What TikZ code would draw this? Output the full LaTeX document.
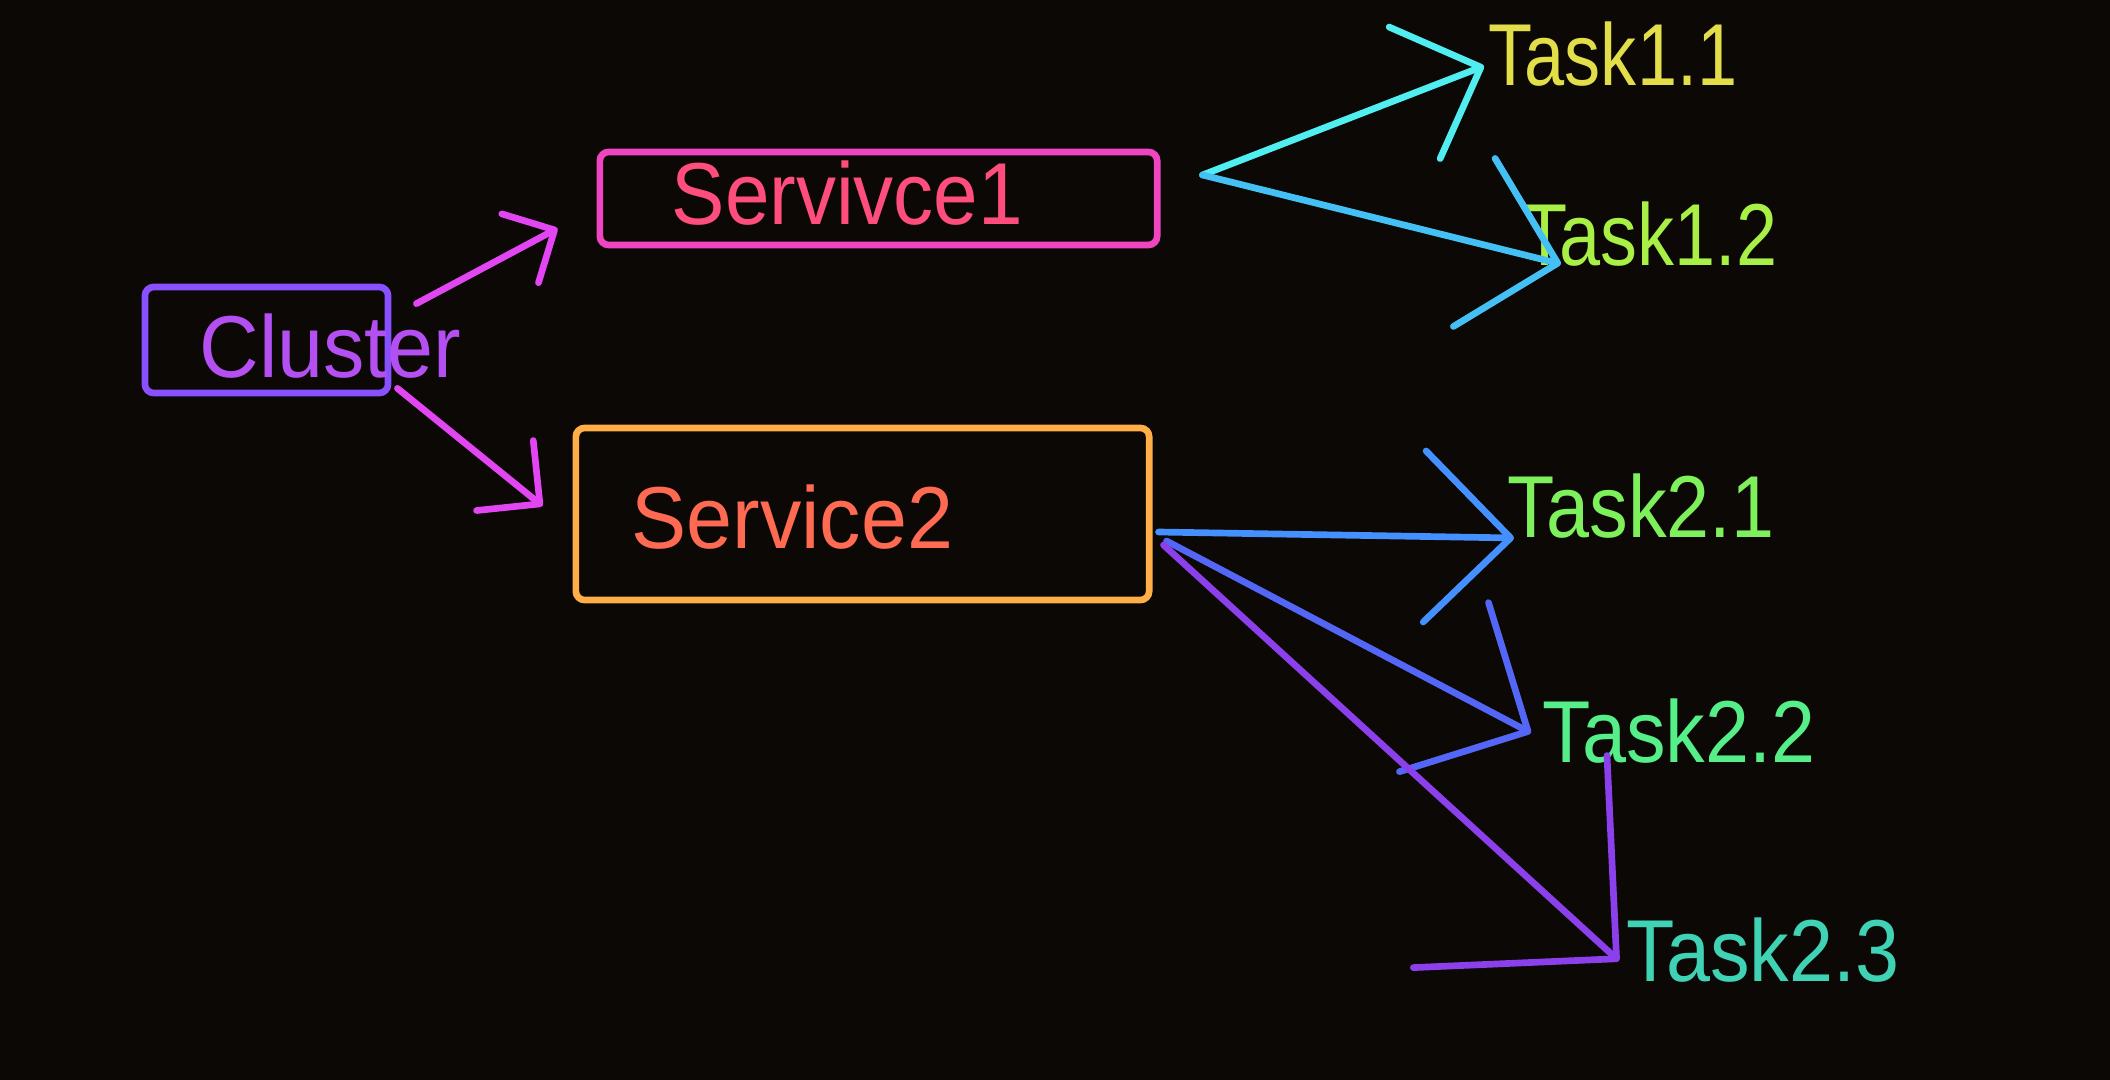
\documentclass[tikz,border=0pt]{standalone}
\usepackage{fontspec}
\setmainfont{Liberation Sans}
\usetikzlibrary{calc}
\usetikzlibrary{arrows.meta}

\definecolor{bg}{HTML}{0C0805}
\definecolor{cluline}{HTML}{8850FF}
\definecolor{clutext}{HTML}{B450F2}
\definecolor{sonebox}{HTML}{F045C0}
\definecolor{sonetext}{HTML}{FF4E7E}
\definecolor{stwobox}{HTML}{FFAE48}
\definecolor{stwotext}{HTML}{FF6A52}
\definecolor{magarrow}{HTML}{E246F2}
\definecolor{tonea}{HTML}{E2DE4A}
\definecolor{toneb}{HTML}{A8F046}
\definecolor{ttwoa}{HTML}{7EF05C}
\definecolor{ttwob}{HTML}{55EE88}
\definecolor{ttwoc}{HTML}{40D2B4}
\definecolor{arrA}{HTML}{50EEF0}
\definecolor{arrB}{HTML}{45C0F5}
\definecolor{arrC}{HTML}{4590FF}
\definecolor{arrD}{HTML}{5466F5}
\definecolor{arrE}{HTML}{8C40EC}

\tikzset{
  frame/.style={draw, line width=1.9pt, rounded corners=2.5pt, inner sep=0pt},
  word/.style={anchor=base west, inner sep=0pt, font=\fontsize{25}{30}\selectfont},
  hd/.style 2 args={line width=1.9pt, line cap=round, -{Straight Barb[round,length=#1,width=#2]}}
}

\begin{document}
\begin{tikzpicture}[x=0.01cm, y=-0.01cm]
\fill[bg] (0,0) rectangle (2110,1080);
\useasboundingbox (0,0) rectangle (2110,1080);

% boxes
\node[frame, cluline, minimum width=2.43cm, minimum height=1.06cm] (cluBox) at (266.5,340) {};
\node[frame, sonebox, minimum width=5.57cm, minimum height=0.93cm] (s1Box) at (878.5,198.5) {};
\node[frame, stwobox, minimum width=5.73cm, minimum height=1.72cm] (s2Box) at (862.5,514) {};

% labels
\node[word, clutext] (clu) at (199,378) {\scalebox{0.94}[1]{Cluster}};
\node[word, sonetext] (s1) at (671,225) {\scalebox{0.91}[1]{Servivce1}};
\node[word, stwotext] (s2) at (631,549) {\scalebox{0.94}[1]{Service2}};
\node[word, tonea] (t11) at (1488,86) {\scalebox{0.82}[1]{Task1.1}};
\node[word, toneb] (t12) at (1522,266) {\scalebox{0.84}[1]{Task1.2}};
\node[word, ttwoa] (t21) at (1507,538) {\scalebox{0.88}[1]{Task2.1}};
\node[word, ttwob] (t22) at (1542,762) {\scalebox{0.9}[1]{Task2.2}};
\node[word, ttwoc] (t23) at (1626,981) {\scalebox{0.9}[1]{Task2.3}};

% arrow ends
\coordinate (c1) at ($(cluBox.north east)+(25,20)$);
\coordinate (c2) at ($(cluBox.south east)+(6,-8)$);
\coordinate (e1) at ($(s1Box.south west)+(-39,-20)$);
\coordinate (e2) at ($(s2Box.west)+(-30,-8)$);
\coordinate (o1) at ($(s1Box.east)+(42,-23.5)$);
\coordinate (o2a) at ($(s2Box.east)+(6,18)$);
\coordinate (o2b) at ($(s2Box.east)+(14,27)$);
\coordinate (o2c) at ($(s2Box.east)+(11,31)$);
\coordinate (k11) at ($(t11.base west)+(-4,-20)$);
\coordinate (k12) at ($(t12.base west)+(39,-2)$);
\coordinate (k21) at ($(t21.base west)+(7,0)$);
\coordinate (k22) at ($(t22.base west)+(-11,-29)$);
\coordinate (k23) at ($(t23.base west)+(-7,-20)$);

% arrows
\draw[magarrow, hd={0.39cm}{0.78cm}] (c1) -- (e1);
\draw[magarrow, hd={0.45cm}{0.90cm}] (c2) -- (e2);
\draw[arrA, hd={0.71cm}{1.41cm}] (o1) -- (k11);
\draw[arrB, hd={0.86cm}{1.73cm}] (o1) -- (k12);
\draw[arrC, hd={0.86cm}{1.71cm}] (o2a) -- (k21);
\draw[arrD, hd={0.95cm}{1.91cm}] (o2b) -- (k22);
\draw[arrE, hd={1.44cm}{2.87cm}] (o2c) -- (k23);

\end{tikzpicture}
\end{document}
